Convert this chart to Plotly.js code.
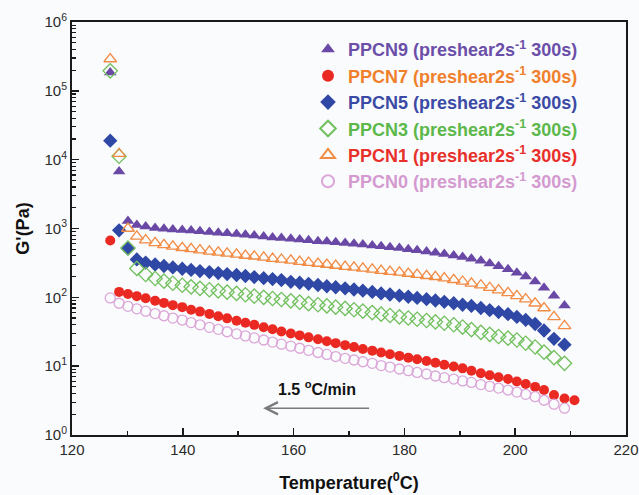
<!DOCTYPE html>
<html><head><meta charset="utf-8">
<script src="https://cdn.plot.ly/plotly-3.0.1.min.js"></script>
<style>html,body{margin:0;padding:0;background:#fafbfd;} #chart{width:639px;height:495px;}</style>
</head><body><div id="chart"></div>
<script>
// Temperature (°C) sampling points
const temperature = [126.9, 128.5, 130.1, 131.7, 133.3, 135.0, 136.6, 138.2, 139.9, 141.5, 143.1, 144.8, 146.4, 148.0, 149.7, 151.3, 152.9, 154.6, 156.2, 157.8, 159.5, 161.1, 162.7, 164.4, 166.0, 167.6, 169.3, 170.9, 172.5, 174.2, 175.8, 177.4, 179.1, 180.7, 182.3, 184.0, 185.6, 187.2, 188.9, 190.5, 192.1, 193.8, 195.4, 197.0, 198.7, 200.3, 201.9, 203.6, 205.2, 207.0, 208.9, 210.7];

// G' (Pa) for each sample
const ppcn9 = [185000, 6750, 1290, 1120, 1070, 1020, 990, 970, 955, 935, 915, 890, 870, 850, 830, 810, 790, 765, 740, 725, 710, 695, 675, 655, 645, 630, 615, 600, 585, 565, 550, 535, 520, 500, 485, 465, 445, 425, 405, 385, 365, 340, 310, 283, 255, 228, 200, 170, 138, 105, 76];
const ppcn7 = [670, 120, 112, 104, 97, 89, 83, 77, 72, 66, 62, 57.5, 53, 49.5, 45.7, 42.7, 39.8, 36.7, 34.3, 31.8, 29.8, 28, 26.2, 24.6, 23, 21.6, 20.2, 19, 17.8, 16.8, 15.8, 14.9, 14.1, 13.3, 12.6, 11.9, 11.2, 10.5, 9.9, 9.3, 8.6, 7.9, 7.4, 6.9, 6.5, 6.0, 5.5, 5.0, 4.5, 3.8, 3.4, 3.2];
const ppcn5 = [18900, 940, 510, 355, 320, 300, 285, 272, 260, 250, 241, 233, 225, 218, 211, 204, 197, 190, 184, 178, 168, 163, 157, 151, 145, 140, 135, 130, 125, 120, 114, 110, 106, 102, 98, 94, 90, 86, 82, 78, 75, 70, 65, 61, 57, 52, 47, 41, 33, 25, 20.5];
const ppcn3 = [195000, 11200, 520, 263, 215, 188, 172, 160, 150, 142, 135, 129, 124, 119, 114, 109, 104, 100, 96, 93, 89, 85, 81, 78, 75, 72, 69, 66, 63, 60, 57, 54.5, 52, 50, 48, 46, 44, 42, 40, 37, 34, 31, 29, 27, 25.5, 24, 21.5, 19, 16, 13.3, 11];
const ppcn1 = [290000, 12200, 1000, 770, 680, 620, 580, 550, 525, 505, 485, 465, 450, 435, 420, 405, 395, 380, 365, 355, 345, 330, 320, 310, 300, 290, 280, 272, 263, 255, 245, 237, 230, 222, 214, 206, 199, 190, 180, 170, 160, 150, 138, 127, 116, 105, 94, 82, 70, 52, 38.5];
const ppcn0 = [98, 82, 74, 68, 63, 58, 54, 50, 46.8, 43, 39.8, 36.7, 34.3, 31.6, 29.5, 27.5, 25.7, 24, 22.4, 20.9, 19.5, 18.2, 17, 15.8, 14.8, 13.8, 13, 12.3, 11.6, 11, 10.2, 9.7, 9.1, 8.6, 8.1, 7.7, 7.2, 6.8, 6.5, 6.1, 5.8, 5.4, 5.1, 4.8, 4.5, 4.2, 3.9, 3.6, 3.2, 2.8, 2.45];

const seriesNames = ['PPCN9', 'PPCN7', 'PPCN5', 'PPCN3', 'PPCN1', 'PPCN0'];
const legendSuffix = ' (preshear2s<sup>-1</sup> 300s)';

const xTickVals = [120, 140, 160, 180, 200, 220];
const xTickText = ['120', '140', '160', '180', '200', '220'];
const xMinorTicks = [130, 150, 170, 190, 210];
const yTickVals = [1, 10, 100, 1000, 10000, 100000, 1000000];
const yTickText = ['10<sup>0</sup>', '10<sup>1</sup>', '10<sup>2</sup>', '10<sup>3</sup>', '10<sup>4</sup>', '10<sup>5</sup>', '10<sup>6</sup>'];
const yMinorTicks = [2,3,4,5,6,7,8,9, 20,30,40,50,60,70,80,90, 200,300,400,500,600,700,800,900, 2000,3000,4000,5000,6000,7000,8000,9000, 20000,30000,40000,50000,60000,70000,80000,90000, 200000,300000,400000,500000,600000,700000,800000,900000];

const seriesValues = [ppcn9, ppcn7, ppcn5, ppcn3, ppcn1, ppcn0];
const markerStyles = [
  {symbol: 'triangle-up', size: 11, color: '#6a48a6'},
  {symbol: 'circle', size: 10, color: '#ea2a22'},
  {symbol: 'diamond', size: 11, color: '#2f47a5'},
  {symbol: 'diamond-open', size: 11, color: '#72c05e', line: {width: 1.3, color: '#72c05e'}},
  {symbol: 'triangle-up-open', size: 11, color: '#f28b44', line: {width: 1.3, color: '#f28b44'}},
  {symbol: 'circle-open', size: 10, color: '#dba6d8', line: {width: 1.3, color: '#dba6d8'}}
];
const legendTextColors = ['#6b4ea8', '#f0802c', '#3a4aa5', '#5cb84a', '#e8302a', '#d49ad0'];

const traces = seriesValues.map((vals, i) => ({
  type: 'scatter',
  mode: 'markers',
  x: temperature.slice(0, vals.length),
  y: vals,
  name: '<span style="color:' + legendTextColors[i] + '">' + seriesNames[i] + legendSuffix + '</span>',
  marker: markerStyles[i]
}));

const axisCommon = {
  showline: true, linewidth: 2, linecolor: '#1a1a1a', mirror: true,
  showgrid: false, zeroline: false,
  ticks: 'inside', ticklen: 7, tickwidth: 1.5, tickcolor: '#1a1a1a',
  tickfont: {size: 15, color: '#2a2a2a'}
};

const layout = {
  width: 639, height: 495,
  margin: {l: 72, r: 13, t: 22, b: 60, pad: 0},
  paper_bgcolor: '#fafbfd', plot_bgcolor: '#fafbfd',
  font: {family: 'Liberation Sans, Arial, sans-serif', size: 15, color: '#222'},
  showlegend: true,
  legend: {
    x: 0.426, y: 0.978, xanchor: 'left', yanchor: 'top',
    bgcolor: 'rgba(0,0,0,0)', borderwidth: 0,
    font: {size: 18, weight: 'bold', family: 'Liberation Sans, Arial, sans-serif'},
    itemsizing: 'constant', tracegroupgap: 0
  },
  xaxis: Object.assign({}, axisCommon, {
    range: [120, 220], tickmode: 'array', tickvals: xTickVals, ticktext: xTickText,
    minor: {tickmode: 'array', tickvals: xMinorTicks, ticks: 'inside', ticklen: 4, tickwidth: 1.5, tickcolor: '#1a1a1a', showgrid: false},
    title: {text: 'Temperature(<sup>0</sup>C)', font: {size: 18, weight: 'bold', color: '#111'}, standoff: 19}
  }),
  yaxis: Object.assign({}, axisCommon, {
    type: 'log', range: [0, 6], tickmode: 'array', tickvals: yTickVals, ticktext: yTickText,
    minor: {tickmode: 'array', tickvals: yMinorTicks, ticks: 'inside', ticklen: 4, tickwidth: 1.2, tickcolor: '#1a1a1a', showgrid: false},
    title: {text: "G'(Pa)", font: {size: 18, weight: 'bold', color: '#111'}, standoff: 10}
  }),
  annotations: [
    {x: 154.5, y: 0.388, ax: 173.9, ay: 0.388, xref: 'x', yref: 'y', axref: 'x', ayref: 'y',
     text: '', showarrow: true, arrowhead: 5, arrowsize: 1.6, arrowwidth: 1.5, arrowcolor: '#7a7a7a'},
    {x: 164.3, y: 0.684, xref: 'x', yref: 'y', text: '1.5 <sup>o</sup>C/min', showarrow: false,
     font: {size: 16, weight: 'bold', color: '#111'}}
  ]
};

Plotly.newPlot('chart', traces, layout, {staticPlot: true, displayModeBar: false});
</script>
</body></html>
